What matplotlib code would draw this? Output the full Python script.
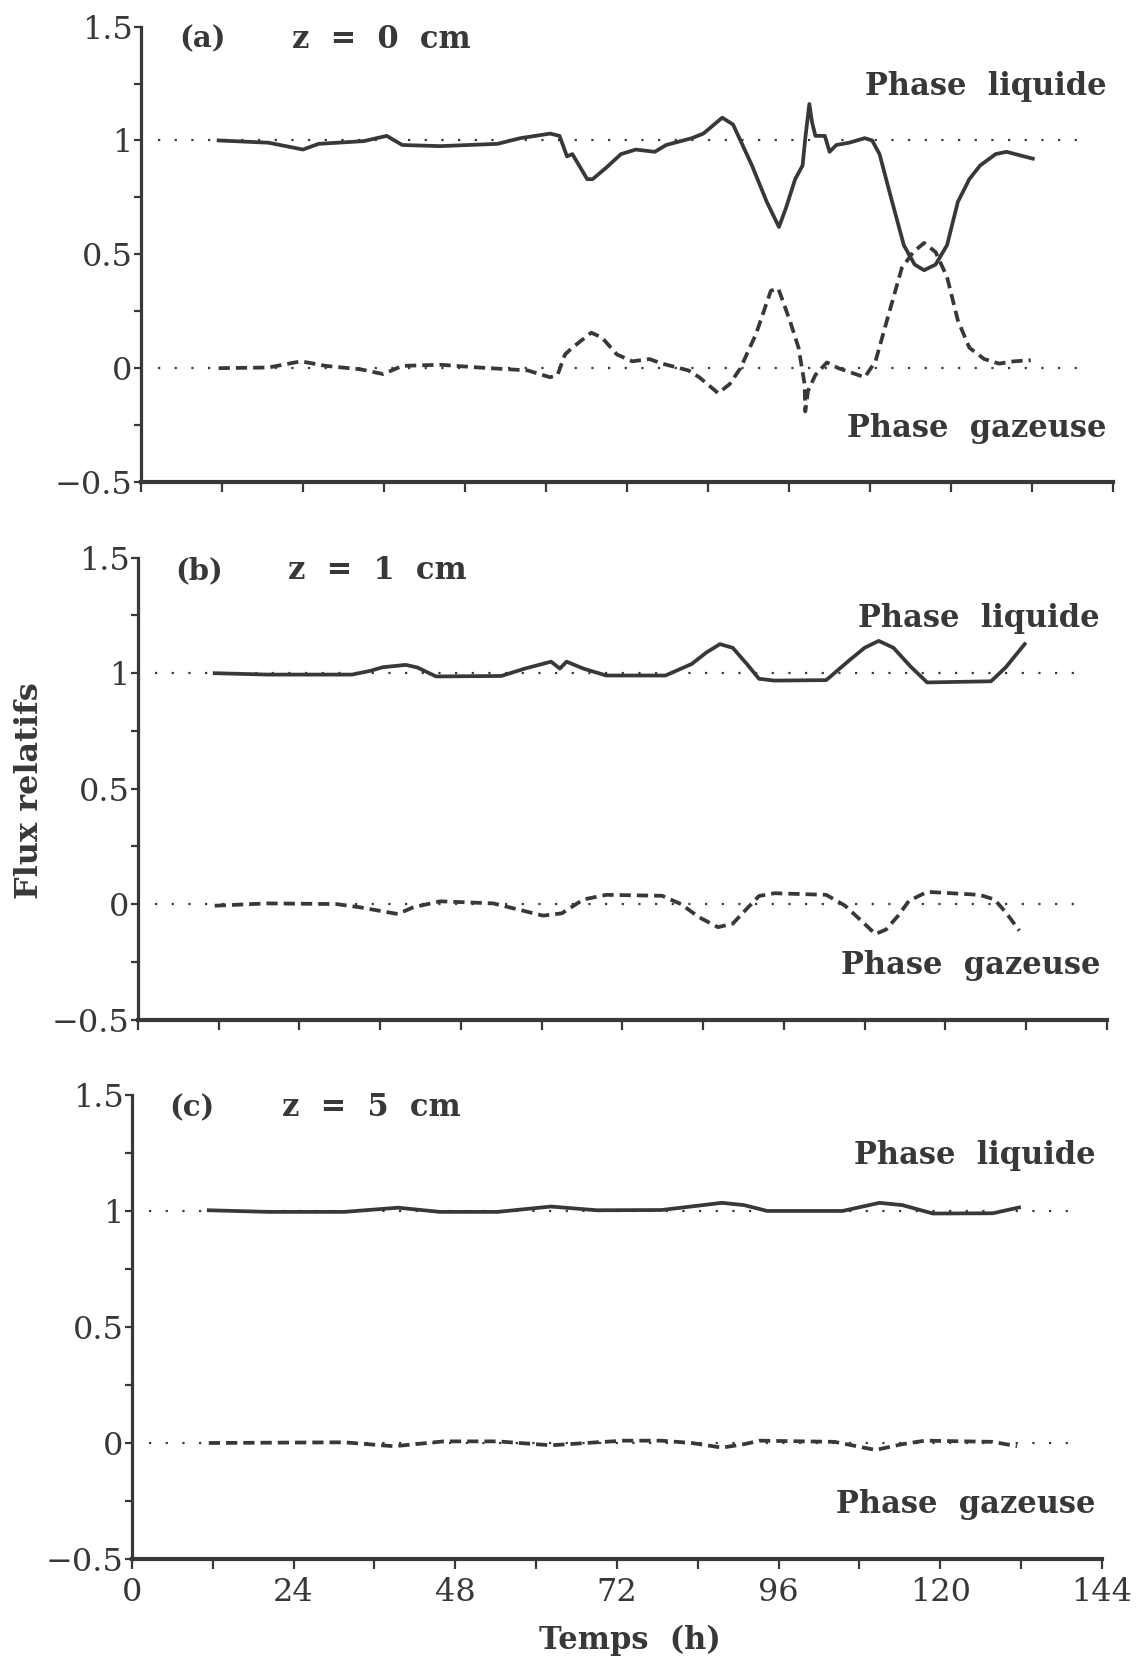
import matplotlib.pyplot as plt
from matplotlib.ticker import MultipleLocator

# Panel (a) z = 0 cm
hours_a_liq = [11.5, 18.9, 24, 26.3, 33, 36.4, 38.7, 44.3, 52.8, 56.2, 60.6, 62, 63.1, 63.9,
               66.1, 66.9, 68.9, 71.1, 73.3, 76.1, 77.8, 81.6, 83.3, 86.1, 87.7, 90.5, 92.7,
               94.5, 95.5, 96.9, 98, 98.4, 99, 99.4, 99.9, 101.3, 102, 103, 104.9, 107.2,
               108.3, 109.4, 111, 113, 114.6, 116, 117.7, 119.4, 121, 122.7, 124.3, 126.6,
               128.2, 132.1]
liq_a = [1.0, 0.99, 0.96, 0.985, 0.997, 1.02, 0.98, 0.975, 0.985, 1.01, 1.03, 1.02, 0.93, 0.94,
         0.83, 0.83, 0.88, 0.94, 0.96, 0.95, 0.98, 1.01, 1.03, 1.10, 1.07, 0.89, 0.73,
         0.62, 0.70, 0.83, 0.89, 1.01, 1.16, 1.08, 1.02, 1.02, 0.95, 0.98, 0.99, 1.01,
         1.0, 0.94, 0.76, 0.54, 0.455, 0.43, 0.455, 0.54, 0.73, 0.83, 0.89, 0.94,
         0.95, 0.92]
hours_a_gas = [11.5, 18.9, 23.7, 27.4, 32.5, 35.9, 38.7, 44.3, 50, 57.3, 60.6, 61.7, 62.8, 63.9,
               66.7, 68.3, 70.5, 72.8, 75.3, 77.2, 81.1, 82.7, 85.5, 87.2, 88.8, 91.1, 93.3,
               94.4, 96.1, 97.4, 98.3, 98.4, 98.8, 99.9, 101.6, 103.3, 107.2, 108.8, 110.5,
               112.7, 114.4, 116, 117.7, 119.4, 121, 122.7, 124.9, 127.1, 129.3, 131.8]
gas_a = [0.0, 0.003, 0.03, 0.01, -0.005, -0.026, 0.01, 0.015, 0.003, -0.01, -0.04, -0.03, 0.06, 0.09,
         0.156, 0.134, 0.06, 0.03, 0.04, 0.02, -0.01, -0.04, -0.11, -0.07, 0.0, 0.15, 0.34,
         0.35, 0.21, 0.09, -0.07, -0.19, -0.1, -0.03, 0.025, 0.0, -0.04, 0.03, 0.21,
         0.44, 0.51, 0.55, 0.51, 0.40, 0.21, 0.09, 0.04, 0.02, 0.03, 0.035]

# Panel (b) z = 1 cm
hours_b_liq = [11.4, 19.3, 31.8, 34.5, 36.4, 39.8, 41.5, 44.3, 54, 57.5, 61.4, 62.7, 63.7, 66.2,
               69.6, 78.4, 82.3, 84.5, 86.5, 88.4, 90.5, 92.3, 94.6, 102.3, 105.7, 108,
               110.1, 112.3, 114.8, 117.3, 126.8, 129, 131.8]
liq_b = [1.0, 0.994, 0.994, 1.01, 1.026, 1.036, 1.025, 0.986, 0.988, 1.02, 1.05, 1.02, 1.05, 1.02,
         0.99, 0.99, 1.04, 1.09, 1.126, 1.11, 1.04, 0.976, 0.968, 0.97, 1.055, 1.11,
         1.14, 1.11, 1.03, 0.96, 0.965, 1.026, 1.126]
hours_b_gas = [11.4, 19.3, 29.5, 33, 38.6, 40.9, 44.9, 52.8, 60.2, 63, 66.2, 69.6, 77.9, 80.7,
               83.4, 86.2, 88.4, 90.5, 92.3, 94.6, 102.3, 105.1, 107.8, 109.6, 111.2, 113,
               114.6, 117.3, 125.1, 127.3, 129, 131]
gas_b = [-0.007, 0.003, 0.0, -0.014, -0.043, -0.014, 0.012, 0.003, -0.05, -0.04, 0.02, 0.04, 0.036, 0.0,
         -0.057, -0.10, -0.085, -0.02, 0.035, 0.047, 0.04, -0.007, -0.08, -0.13, -0.11, -0.05,
         0.014, 0.053, 0.04, 0.02, -0.036, -0.115]

# Panel (c) z = 5 cm
hours_c_liq = [11.4, 20.2, 31.5, 39.5, 45.7, 54.3, 62.2, 69, 78.6, 87.6, 90.9, 94.3, 105.5, 111,
               114.4, 118.9, 127.8, 131.7]
liq_c = [1.003, 0.996, 0.996, 1.014, 0.996, 0.996, 1.019, 1.003, 1.004, 1.035, 1.025, 1.0, 1.0, 1.035,
         1.025, 0.989, 0.99, 1.015]
hours_c_gas = [11.4, 31.5, 38.9, 46.3, 54.3, 62.2, 69, 73.1, 78.6, 83.1, 87.6, 90.9, 93.2, 104.3,
               110.4, 114.4, 117.7, 127.8, 131.4]
gas_c = [0.0, 0.003, -0.014, 0.007, 0.007, -0.01, 0.003, 0.01, 0.01, 0.0, -0.02, -0.005, 0.01, 0.005,
         -0.03, -0.005, 0.01, 0.005, -0.014]

panel_labels = ["(a)", "(b)", "(c)"]
depths = ["z  =  0  cm", "z  =  1  cm", "z  =  5  cm"]
x_ticks = [0, 24, 48, 72, 96, 120, 144]
y_ticks = [-0.5, 0, 0.5, 1, 1.5]
y_ticklabels = ["\u22120.5", "0", "0.5", "1", "1.5"]

ink = "#383838"
plt.rcParams["font.family"] = "DejaVu Serif"

fig = plt.figure(figsize=(11.37, 16.61), dpi=100)

# axes rectangles follow the slightly skewed scan
rects = [[0.124, 0.7098, 0.855, 0.2742],
         [0.1214, 0.3862, 0.852, 0.278],
         [0.1161, 0.0614, 0.853, 0.2794]]
series = [(hours_a_liq, liq_a, hours_a_gas, gas_a),
          (hours_b_liq, liq_b, hours_b_gas, gas_b),
          (hours_c_liq, liq_c, hours_c_gas, gas_c)]

for i, (rect, (hl, l, hg, g)) in enumerate(zip(rects, series)):
    ax = fig.add_axes(rect)
    ax.set_xlim(0, 144)
    ax.set_ylim(-0.5, 1.5)

    # reference levels
    for lvl in (0, 1):
        ax.plot([2.5, 139.5], [lvl, lvl], color=ink, lw=1.6, linestyle=(0, (1, 6.5)))

    ax.plot(hl, l, color=ink, lw=2.7, solid_joinstyle="round")
    ax.plot(hg, g, color=ink, lw=2.7, linestyle=(0, (3.0, 1.6)))

    ax.text(5.6, 1.445, panel_labels[i], fontsize=21, va="center", color=ink, fontweight="bold")
    ax.text(22.3, 1.445, depths[i], fontsize=22, va="center", color=ink, fontweight="bold")
    ax.text(143, 1.237, "Phase  liquide", fontsize=22, ha="right", va="center",
            color=ink, fontweight="bold")
    ax.text(143, -0.265, "Phase  gazeuse", fontsize=22, ha="right", va="center",
            color=ink, fontweight="bold")

    for side in ("top", "right"):
        ax.spines[side].set_visible(False)
    ax.spines["left"].set_linewidth(2.3)
    ax.spines["bottom"].set_linewidth(3.0)
    ax.spines["left"].set_color(ink)
    ax.spines["bottom"].set_color(ink)

    ax.set_yticks(y_ticks)
    ax.set_yticklabels(y_ticklabels)
    ax.yaxis.set_minor_locator(MultipleLocator(0.25))
    ax.set_xticks(range(0, 145, 12))
    ax.tick_params(axis="y", which="both", direction="out", length=5, width=1.6,
                   colors=ink, labelsize=23, pad=1)
    ax.tick_params(axis="x", which="both", direction="out", length=7, width=1.6,
                   colors=ink, labelsize=23, pad=6)
    if i < 2:
        ax.tick_params(axis="x", labelbottom=False)
    else:
        ax.set_xticklabels([str(t) if t in x_ticks else "" for t in range(0, 145, 12)])

fig.text(0.026, 0.524, "Flux relatifs", rotation=90, fontsize=23, ha="center", va="center",
         color=ink, fontweight="bold")
fig.text(0.554, 0.0126, "Temps  (h)", fontsize=22, ha="center", va="center",
         color=ink, fontweight="bold")

fig.savefig("out.png", dpi=100)
